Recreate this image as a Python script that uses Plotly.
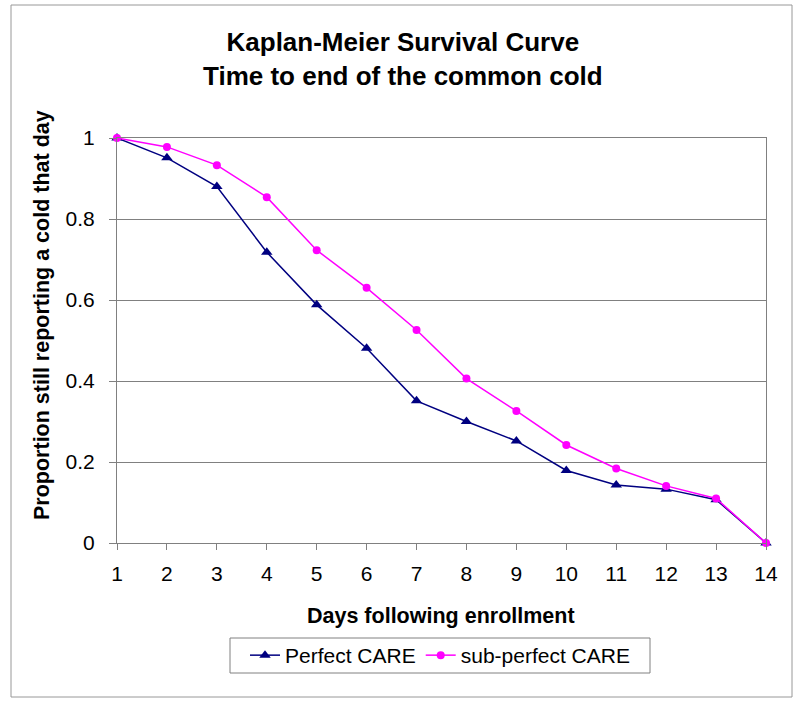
import plotly.graph_objects as go

days = list(range(1, 15))
perfect_care = [1.0, 0.951, 0.880, 0.718, 0.588, 0.481, 0.351, 0.300, 0.252, 0.179, 0.143, 0.133, 0.107, 0.0]
subperfect_care = [1.0, 0.978, 0.933, 0.854, 0.723, 0.630, 0.526, 0.406, 0.326, 0.242, 0.184, 0.141, 0.110, 0.0]
y_ticks = [0, 0.2, 0.4, 0.6, 0.8, 1]
y_tick_labels = ["0", "0.2", "0.4", "0.6", "0.8", "1"]

FONT = "Liberation Sans, Arial, sans-serif"

fig = go.Figure()
fig.add_trace(go.Scatter(
    x=days, y=perfect_care, name="Perfect CARE", mode="lines+markers",
    line=dict(color="#000080", width=1.5),
    marker=dict(symbol="triangle-up", size=10, color="#000080"),
    cliponaxis=False,
))
fig.add_trace(go.Scatter(
    x=days, y=subperfect_care, name="sub-perfect CARE", mode="lines+markers",
    line=dict(color="#FF00FF", width=1.5),
    marker=dict(symbol="circle", size=8, color="#FF00FF"),
    cliponaxis=False,
))

W, H = 800, 703
L, R, T, B = 117, 34, 138, 160
pw = W - L - R
ph = H - T - B


def px(x):
    return (x - L) / pw


def py(y):
    return (T + ph - y) / ph


fig.update_layout(
    width=W, height=H, autosize=False,
    margin=dict(l=L, r=R, t=T, b=B, pad=0),
    paper_bgcolor="white", plot_bgcolor="white",
    font=dict(family=FONT, size=21, color="black"),
    showlegend=True,
    legend=dict(
        orientation="h", x=px(440), xanchor="center",
        y=py(655.5), yanchor="middle",
        bgcolor="rgba(0,0,0,0)", borderwidth=0,
        font=dict(family=FONT, size=21, color="black"),
        itemwidth=30, tracegroupgap=0,
    ),
    xaxis=dict(
        range=[1, 14], tickmode="array", tickvals=days,
        ticktext=[str(d) for d in days],
        showgrid=False, zeroline=False,
        showline=True, linecolor="#808080", linewidth=1, mirror=True,
        ticks="outside", ticklen=6, tickcolor="#808080",
        ticklabelstandoff=6,
        tickfont=dict(family=FONT, size=21, color="black"),
    ),
    yaxis=dict(
        range=[0, 1], tickmode="array", tickvals=y_ticks, ticktext=y_tick_labels,
        showgrid=True, gridcolor="#808080", gridwidth=1, zeroline=False,
        showline=True, linecolor="#808080", linewidth=1, mirror=True,
        ticks="outside", ticklen=7, tickcolor="#808080",
        ticklabelstandoff=10,
        tickfont=dict(family=FONT, size=21, color="black"),
    ),
    shapes=[
        dict(type="rect", xref="paper", yref="paper",
             x0=px(11), x1=px(792), y0=py(697), y1=py(5),
             line=dict(color="#989898", width=1), layer="below"),
        dict(type="rect", xref="paper", yref="paper",
             x0=px(230), x1=px(650), y0=py(673), y1=py(638),
             line=dict(color="#808080", width=1), layer="below"),
    ],
    annotations=[
        dict(text="<b>Kaplan-Meier Survival Curve<br>Time to end of the common cold</b>",
             xref="paper", yref="paper", x=px(403), y=py(58.5),
             xanchor="center", yanchor="middle", showarrow=False,
             font=dict(family=FONT, size=26, color="black")),
        dict(text="<b>Proportion still reporting a cold that day</b>",
             xref="paper", yref="paper", x=px(42), y=py(315),
             xanchor="center", yanchor="middle", showarrow=False, textangle=-90,
             font=dict(family=FONT, size=21.5, color="black")),
        dict(text="<b>Days following enrollment</b>",
             xref="paper", yref="paper", x=px(441), y=py(616),
             xanchor="center", yanchor="middle", showarrow=False,
             font=dict(family=FONT, size=21.5, color="black")),
    ],
)

fig.write_html(
    "out.html",
    config={"displayModeBar": False},
    post_script="document.body.style.margin='0px';document.documentElement.style.overflow='hidden';",
)
